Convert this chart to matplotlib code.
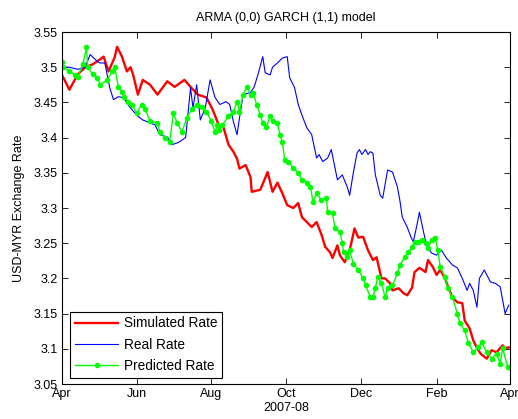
import matplotlib
matplotlib.use("Agg")
import matplotlib.pyplot as plt
from matplotlib.ticker import FuncFormatter
import datetime as dt

plt.rcParams['font.family'] = ['Liberation Sans', 'DejaVu Sans']

start = dt.date(2007, 4, 1)

# Simulated Rate (day offset from 2007-04-01, value)
sim_days = [0, 6, 13, 19, 25, 31, 34, 38, 43, 45, 49, 53, 56, 58, 62, 66, 72, 78, 86, 92,
            100, 105, 111, 118, 123, 128, 132, 136, 140, 143, 145, 150, 154, 155, 162, 168,
            172, 176, 180, 184, 189, 193, 196, 200, 204, 208, 212, 215, 219, 221, 225, 227,
            231, 235, 239, 242, 246, 250, 254, 257, 261, 264, 268, 270, 275, 279, 282, 286,
            288, 292, 297, 299, 303, 306, 309, 313, 315, 319, 323, 327, 329, 333, 336, 339,
            342, 347, 351, 355, 360, 362, 365]
sim_vals = [3.489, 3.468, 3.490, 3.500, 3.504, 3.511, 3.515, 3.494, 3.514, 3.529, 3.515, 3.494,
            3.500, 3.490, 3.461, 3.482, 3.475, 3.461, 3.480, 3.472, 3.482, 3.472, 3.461, 3.457,
            3.440, 3.418, 3.414, 3.390, 3.380, 3.370, 3.356, 3.361, 3.344, 3.323, 3.326, 3.351,
            3.323, 3.336, 3.321, 3.304, 3.300, 3.307, 3.287, 3.280, 3.273, 3.280, 3.262, 3.245,
            3.237, 3.229, 3.247, 3.233, 3.223, 3.240, 3.271, 3.258, 3.259, 3.240, 3.226, 3.230,
            3.200, 3.200, 3.193, 3.183, 3.186, 3.179, 3.176, 3.187, 3.209, 3.215, 3.209, 3.226,
            3.216, 3.205, 3.212, 3.200, 3.190, 3.173, 3.166, 3.165, 3.140, 3.129, 3.112, 3.101,
            3.093, 3.086, 3.098, 3.095, 3.105, 3.101, 3.102]

# Real Rate
real_days = [0, 6, 13, 19, 23, 29, 31, 35, 39, 42, 46, 50, 56, 61, 66, 72, 76, 80, 86, 90,
             95, 101, 105, 107, 110, 113, 117, 121, 125, 129, 134, 137, 140, 143, 145, 148,
             154, 157, 160, 164, 166, 170, 172, 176, 180, 184, 186, 190, 193, 196, 200, 204,
             208, 210, 213, 217, 220, 225, 229, 233, 235, 238, 241, 243, 245, 248, 250, 252,
             254, 256, 260, 262, 266, 270, 274, 276, 278, 282, 285, 287, 290, 292, 295, 298,
             302, 306, 310, 314, 319, 323, 327, 331, 333, 336, 339, 341, 345, 350, 354, 358,
             362, 365]
real_vals = [3.500, 3.500, 3.497, 3.500, 3.518, 3.508, 3.506, 3.506, 3.471, 3.454, 3.458, 3.457,
             3.442, 3.432, 3.425, 3.421, 3.418, 3.404, 3.401, 3.390, 3.393, 3.400, 3.471, 3.442,
             3.475, 3.425, 3.442, 3.482, 3.457, 3.447, 3.451, 3.447, 3.423, 3.404, 3.428, 3.461,
             3.464, 3.472, 3.489, 3.515, 3.492, 3.489, 3.500, 3.506, 3.513, 3.515, 3.485, 3.471,
             3.447, 3.432, 3.414, 3.404, 3.371, 3.376, 3.366, 3.371, 3.383, 3.340, 3.347, 3.330,
             3.318, 3.350, 3.378, 3.383, 3.376, 3.383, 3.376, 3.380, 3.378, 3.347, 3.318, 3.314,
             3.354, 3.351, 3.330, 3.311, 3.287, 3.273, 3.259, 3.252, 3.276, 3.294, 3.269, 3.245,
             3.236, 3.233, 3.240, 3.229, 3.219, 3.215, 3.200, 3.183, 3.193, 3.183, 3.159, 3.200,
             3.212, 3.195, 3.193, 3.188, 3.150, 3.162]

# Predicted Rate
pred_days = [0, 1, 6, 11, 13, 17, 20, 21, 25, 29, 31, 37, 41, 43, 46, 49, 51, 54, 57, 61,
             65, 68, 72, 78, 80, 84, 88, 91, 94, 98, 102, 106, 110, 114, 118, 122, 125, 127,
             128, 131, 136, 140, 143, 145, 148, 151, 154, 156, 159, 162, 164, 167, 170, 172,
             176, 178, 180, 182, 185, 189, 193, 196, 200, 203, 205, 208, 212, 216, 217, 221,
             223, 227, 229, 230, 233, 235, 238, 242, 246, 248, 252, 254, 256, 258, 261, 264,
             266, 270, 274, 276, 280, 283, 286, 288, 291, 294, 297, 299, 302, 305, 307, 309,
             313, 315, 319, 323, 325, 329, 332, 336, 340, 343, 347, 351, 355, 358, 360, 364, 365]
pred_vals = [3.507, 3.500, 3.494, 3.489, 3.486, 3.504, 3.528, 3.500, 3.490, 3.485, 3.475, 3.482,
             3.494, 3.500, 3.472, 3.465, 3.458, 3.450, 3.447, 3.435, 3.447, 3.440, 3.423, 3.421,
             3.408, 3.400, 3.394, 3.435, 3.421, 3.408, 3.428, 3.440, 3.447, 3.444, 3.437, 3.423,
             3.408, 3.418, 3.411, 3.418, 3.430, 3.437, 3.451, 3.437, 3.461, 3.472, 3.461, 3.464,
             3.447, 3.432, 3.421, 3.415, 3.430, 3.423, 3.421, 3.404, 3.394, 3.368, 3.366, 3.357,
             3.350, 3.340, 3.336, 3.330, 3.309, 3.321, 3.311, 3.314, 3.294, 3.293, 3.271, 3.266,
             3.250, 3.237, 3.230, 3.240, 3.221, 3.212, 3.200, 3.190, 3.173, 3.173, 3.187, 3.202,
             3.193, 3.173, 3.187, 3.190, 3.207, 3.219, 3.230, 3.237, 3.245, 3.252, 3.252, 3.255,
             3.250, 3.243, 3.255, 3.257, 3.240, 3.216, 3.202, 3.187, 3.173, 3.150, 3.136, 3.126,
             3.108, 3.095, 3.102, 3.109, 3.095, 3.086, 3.093, 3.079, 3.101, 3.074, 3.074]

month_ticks = ['2007-04-01', '2007-06-01', '2007-08-01', '2007-10-01', '2007-12-01',
               '2008-02-01', '2008-04-01']
month_labels = ['Apr', 'Jun', 'Aug', 'Oct', 'Dec', 'Feb', 'Apr']
y_ticks = [3.05, 3.1, 3.15, 3.2, 3.25, 3.3, 3.35, 3.4, 3.45, 3.5, 3.55]


def to_dates(days):
    return [start + dt.timedelta(days=int(d)) for d in days]


fig = plt.figure(figsize=(5.18, 4.19), dpi=100)
ax = fig.add_axes([62 / 518, 1 - 384 / 419, 448 / 518, 352 / 419])

ax.plot(to_dates(sim_days), sim_vals, color=(1, 0, 0), lw=1.7, label='Simulated Rate')
ax.plot(to_dates(real_days), real_vals, color=(0, 0, 1), lw=0.8, label='Real Rate')
ax.plot(to_dates(pred_days), pred_vals, color=(0, 1, 0), lw=1.0, marker='.', ms=6,
        label='Predicted Rate')

ax.set_xlim(dt.date(2007, 4, 1), dt.date(2008, 4, 1))
ax.set_ylim(3.05, 3.55)
ax.set_xticks([dt.date.fromisoformat(s) for s in month_ticks])
ax.set_xticklabels(month_labels)
ax.set_yticks(y_ticks)
ax.yaxis.set_major_formatter(FuncFormatter(lambda v, p: '%g' % round(v, 2)))

ax.tick_params(direction='in', top=True, right=True, length=4, width=0.6, labelsize=9,
               pad=3, colors='black')
for s in ax.spines.values():
    s.set_linewidth(0.8)

ax.set_title('ARMA (0,0) GARCH (1,1) model', fontsize=9, pad=8)
ax.set_xlabel('2007-08', fontsize=9, labelpad=1)
ax.set_ylabel('USD-MYR Exchange Rate', fontsize=9, labelpad=6)

leg = ax.legend(loc='lower left', bbox_to_anchor=(0.018, 0.017), fontsize=9.8,
                fancybox=False, framealpha=1, edgecolor='black', borderpad=0.35,
                handlelength=3.2, handletextpad=0.4, labelspacing=0.55, borderaxespad=0)
leg.get_frame().set_linewidth(0.8)

fig.savefig('out.png', dpi=100)
